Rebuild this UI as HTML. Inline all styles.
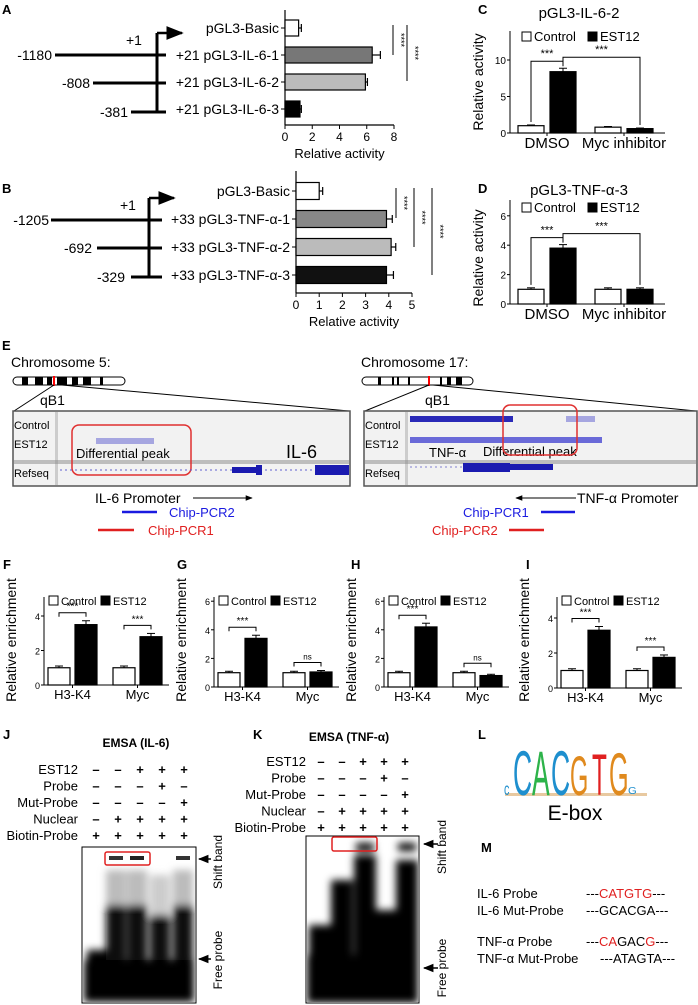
<!DOCTYPE html>
<html><head><meta charset="utf-8"><style>
html,body{margin:0;padding:0;background:#fff}
svg{display:block;font-family:"Liberation Sans",sans-serif}
</style></head><body>
<svg id="fig" width="698" height="1005" viewBox="0 0 698 1005" xmlns="http://www.w3.org/2000/svg">
<defs>
<filter id="blur2" x="-20%" y="-20%" width="140%" height="140%"><feGaussianBlur stdDeviation="4"/></filter>
<marker id="arr" viewBox="0 0 10 10" refX="9" refY="5" markerWidth="7" markerHeight="7" orient="auto"><path d="M0,1 L10,5 L0,9z" fill="#000"/></marker>
</defs>
<g font-weight="bold" font-size="13">
<text x="2" y="14">A</text><text x="2" y="193">B</text><text x="478" y="14">C</text><text x="478" y="193">D</text>
<text x="2" y="350">E</text><text x="3" y="569">F</text><text x="177" y="569">G</text><text x="351" y="569">H</text><text x="526" y="569">I</text>
<text x="3" y="739">J</text><text x="253" y="739">K</text><text x="478" y="739">L</text><text x="481" y="852">M</text>
</g>

<g stroke="#000" stroke-width="3" fill="none">
<line x1="157" y1="33" x2="157" y2="112"/><line x1="157" y1="33" x2="182" y2="33" stroke-width="2.5" marker-end="url(#arr)"/>
<line x1="55" y1="55" x2="166" y2="55"/><line x1="93" y1="83" x2="166" y2="83"/><line x1="131" y1="112" x2="166" y2="112"/>
</g>
<g font-size="14">
<text x="126" y="45">+1</text><text x="52" y="60" text-anchor="end">-1180</text><text x="90" y="88" text-anchor="end">-808</text><text x="128" y="117" text-anchor="end">-381</text>
</g>
<g stroke="#000" stroke-width="3" fill="none">
<line x1="149" y1="198" x2="149" y2="277"/><line x1="149" y1="198" x2="174" y2="198" stroke-width="2.5" marker-end="url(#arr)"/>
<line x1="51" y1="220" x2="162" y2="220"/><line x1="97" y1="248" x2="162" y2="248"/><line x1="131" y1="277" x2="162" y2="277"/>
</g>
<g font-size="14">
<text x="120" y="210">+1</text><text x="49" y="225" text-anchor="end">-1205</text><text x="92" y="253" text-anchor="end">-692</text><text x="125" y="282" text-anchor="end">-329</text>
</g>

<g id="charts"></g>

<g>
<text x="11" y="367" font-size="14">Chromosome 5:</text>
<g>
<rect x="13" y="377" width="112" height="8" rx="4" fill="#fff" stroke="#000"/>
<rect x="22" y="377" width="6" height="8"/><rect x="35" y="377" width="8" height="8"/><rect x="47" y="377" width="5" height="8"/><rect x="57" y="377" width="10" height="8"/><rect x="72" y="377" width="6" height="8"/><rect x="83" y="377" width="8" height="8"/><rect x="100" y="377" width="3" height="8"/>
<line x1="54" y1="376" x2="54" y2="386" stroke="red" stroke-width="2"/>
</g>
<text x="40" y="405" font-size="14">qB1</text>
<line x1="54" y1="385" x2="14" y2="411" stroke="#000"/><line x1="62" y1="385" x2="349" y2="411" stroke="#000"/>
<rect x="13" y="411" width="337" height="75" fill="#f2f2f2" stroke="#555" stroke-width="1.5"/>
<rect x="55" y="412" width="3" height="73" fill="#ccc"/>
<line x1="14" y1="461" x2="349" y2="461" stroke="#888"/><line x1="14" y1="463" x2="349" y2="463" stroke="#888"/>
<g font-size="11"><text x="14" y="429">Control</text><text x="14" y="448">EST12</text><text x="14" y="477">Refseq</text></g>
<rect x="96" y="438" width="58" height="6" fill="#a6a6e0"/>
<text x="76" y="458" font-size="13">Differential peak</text>
<text x="286" y="458" font-size="18">IL-6</text>
<rect x="72" y="425" width="119" height="50" rx="7" fill="none" stroke="#e03030" stroke-width="1.5"/>
<line x1="60" y1="470" x2="349" y2="470" stroke="#6060d0" stroke-dasharray="2,3"/>
<rect x="232" y="467" width="25" height="6" fill="#1a1ab0"/><rect x="256" y="465" width="6" height="10" fill="#1a1ab0"/><rect x="315" y="465" width="34" height="10" fill="#1a1ab0"/>
<text x="95" y="503" font-size="14">IL-6 Promoter</text>
<line x1="193" y1="498" x2="252" y2="498" stroke="#000" marker-end="url(#arr)"/>
<line x1="122" y1="512" x2="157" y2="512" stroke="#1a1ae0" stroke-width="2.5"/><text x="169" y="517" font-size="13" fill="#1a1ae0">Chip-PCR2</text>
<line x1="98" y1="530" x2="134" y2="530" stroke="#e02020" stroke-width="2.5"/><text x="148" y="535" font-size="13" fill="#e02020">Chip-PCR1</text>
</g>
<g>
<text x="361" y="367" font-size="14">Chromosome 17:</text>
<g>
<rect x="362" y="377" width="111" height="8" rx="4" fill="#fff" stroke="#000"/>
<rect x="378" y="377" width="3" height="8"/><rect x="392" y="377" width="2" height="8"/><rect x="397" y="377" width="2" height="8"/><rect x="408" y="377" width="2" height="8"/><rect x="440" y="377" width="2" height="8"/><rect x="447" y="377" width="4" height="8"/><rect x="456" y="377" width="6" height="8"/>
<line x1="429" y1="376" x2="429" y2="386" stroke="red" stroke-width="2"/>
</g>
<text x="425" y="405" font-size="14">qB1</text>
<line x1="429" y1="385" x2="365" y2="411" stroke="#000"/><line x1="433" y1="385" x2="696" y2="411" stroke="#000"/>
<rect x="364" y="411" width="333" height="75" fill="#f2f2f2" stroke="#555" stroke-width="1.5"/>
<rect x="405" y="412" width="3" height="73" fill="#ccc"/>
<line x1="365" y1="461" x2="696" y2="461" stroke="#888"/><line x1="365" y1="463" x2="696" y2="463" stroke="#888"/>
<g font-size="11"><text x="365" y="429">Control</text><text x="365" y="448">EST12</text><text x="365" y="477">Refseq</text></g>
<rect x="410" y="416" width="103" height="6" fill="#2a2ab8"/><rect x="566" y="416" width="29" height="6" fill="#a6a6e0"/>
<rect x="410" y="437" width="192" height="6" fill="#6a6ad8"/>
<text x="429" y="457" font-size="13">TNF-α</text><text x="483" y="456" font-size="13">Differential peak</text>
<rect x="503" y="405" width="74" height="50" rx="7" fill="none" stroke="#e03030" stroke-width="1.5"/>
<line x1="410" y1="467" x2="465" y2="467" stroke="#8080d0" stroke-dasharray="2,3"/>
<rect x="463" y="463" width="47" height="9" fill="#1a1ab0"/><rect x="509" y="464" width="44" height="6" fill="#1a1ab0"/>
<text x="577" y="503" font-size="14">TNF-α Promoter</text>
<line x1="576" y1="498" x2="516" y2="498" stroke="#000" marker-end="url(#arr)"/>
<text x="463" y="517" font-size="13" fill="#1a1ae0">Chip-PCR1</text><line x1="541" y1="512" x2="575" y2="512" stroke="#1a1ae0" stroke-width="2.5"/>
<text x="432" y="535" font-size="13" fill="#e02020">Chip-PCR2</text><line x1="509" y1="530" x2="544" y2="530" stroke="#e02020" stroke-width="2.5"/>
</g>

<g>
<text x="136" y="747" font-size="12" font-weight="bold" text-anchor="middle">EMSA (IL-6)</text>
<g id="jtable" font-size="13"></g>
<rect x="82" y="847" width="114" height="156" fill="#fff" stroke="#000"/>
<clipPath id="cj"><rect x="83" y="848" width="112" height="154"/></clipPath>
<g clip-path="url(#cj)" filter="url(#blur2)">
<rect x="87" y="950" width="20" height="52" fill="#000"/>
<rect x="106" y="905" width="20" height="97" fill="#111"/><rect x="106" y="870" width="20" height="35" fill="#bbb"/>
<rect x="127" y="905" width="20" height="97" fill="#111"/><rect x="127" y="870" width="20" height="35" fill="#bbb"/>
<rect x="150" y="915" width="20" height="87" fill="#111"/><rect x="150" y="875" width="20" height="40" fill="#ccc"/>
<rect x="173" y="905" width="20" height="97" fill="#111"/><rect x="173" y="870" width="20" height="35" fill="#bbb"/>
<rect x="84" y="960" width="110" height="42" fill="#000"/>
</g>
<rect x="109" y="856" width="14" height="4" fill="#333"/><rect x="130" y="856" width="14" height="4" fill="#222"/><rect x="176" y="856" width="14" height="4" fill="#333"/>
<rect x="105" y="852" width="45" height="13" rx="2" fill="none" stroke="#e02020" stroke-width="1.5"/>
<line x1="211" y1="859" x2="199" y2="859" stroke="#000" stroke-width="1.5" marker-end="url(#arr)"/>
<line x1="211" y1="959" x2="199" y2="959" stroke="#000" stroke-width="1.5" marker-end="url(#arr)"/>
<text transform="translate(222,862) rotate(-90)" font-size="12" text-anchor="middle">Shift band</text>
<text transform="translate(222,960) rotate(-90)" font-size="12" text-anchor="middle">Free probe</text>
</g>
<g>
<text x="349" y="741" font-size="12" font-weight="bold" text-anchor="middle">EMSA (TNF-α)</text>
<g id="ktable" font-size="13"></g>
<rect x="306" y="836" width="113" height="167" fill="#fff" stroke="#000"/>
<clipPath id="ck"><rect x="307" y="837" width="111" height="165"/></clipPath>
<g clip-path="url(#ck)" filter="url(#blur2)">
<rect x="309" y="925" width="22" height="78" fill="#000"/>
<rect x="331" y="880" width="22" height="123" fill="#000"/>
<rect x="354" y="855" width="22" height="148" fill="#000"/><rect x="356" y="843" width="18" height="8" fill="#000"/>
<rect x="376" y="910" width="20" height="93" fill="#000"/>
<rect x="396" y="860" width="22" height="143" fill="#000"/><rect x="398" y="843" width="18" height="8" fill="#000"/>
<rect x="307" y="955" width="111" height="48" fill="#000"/>
</g>
<rect x="332" y="837" width="45" height="14" rx="2" fill="none" stroke="#e02020" stroke-width="1.5"/>
<line x1="438" y1="844" x2="424" y2="844" stroke="#000" stroke-width="1.5" marker-end="url(#arr)"/>
<line x1="438" y1="968" x2="424" y2="968" stroke="#000" stroke-width="1.5" marker-end="url(#arr)"/>
<text transform="translate(446,847) rotate(-90)" font-size="12" text-anchor="middle">Shift band</text>
<text transform="translate(446,968) rotate(-90)" font-size="12" text-anchor="middle">Free probe</text>
</g>
<g>
<rect x="505" y="793" width="142" height="3" fill="#e8c9a0"/>
<text x="0" y="0" font-size="18" fill="#1e8fce" transform="translate(504,795) scale(0.6,1)">c</text>
<text x="0" y="0" font-size="63" fill="#1e8fce" transform="translate(513,795) scale(0.42,1)">C</text>
<text x="0" y="0" font-size="63" fill="#2db34a" transform="translate(532,795) scale(0.42,1)">A</text>
<text x="0" y="0" font-size="63" fill="#1e8fce" transform="translate(551,795) scale(0.42,1)">C</text>
<text x="0" y="0" font-size="56" fill="#e08a1e" transform="translate(570,795) scale(0.42,1)">G</text>
<text x="0" y="0" font-size="58" fill="#e02020" transform="translate(592,795) scale(0.42,1)">T</text>
<text x="0" y="0" font-size="60" fill="#e08a1e" transform="translate(609,795) scale(0.42,1)">G</text>
<text x="0" y="0" font-size="14" fill="#1e8fce" transform="translate(628,794) scale(0.8,0.7)">G</text>
<text x="575" y="820" font-size="21" text-anchor="middle">E-box</text>
</g>
<g font-size="13">
<text x="477" y="898">IL-6 Probe</text><text x="586" y="898">---<tspan fill="#e02020">CAT</tspan><tspan fill="#e02020">GTG</tspan>---</text>
<text x="477" y="915">IL-6 Mut-Probe</text><text x="586" y="915">---GCACGA---</text>
<text x="477" y="946">TNF-α Probe</text><text x="586" y="946">---<tspan fill="#e02020">CA</tspan>GAC<tspan fill="#e02020">G</tspan>---</text>
<text x="477" y="963">TNF-α Mut-Probe</text><text x="600" y="963">---ATAGTA---</text>
</g>
</svg>
<script>
const aCats = ['pGL3-Basic','+21 pGL3-IL-6-1','+21 pGL3-IL-6-2','+21 pGL3-IL-6-3'];
const aVals = [1.0, 6.4, 5.9, 1.1];
const aErr = [0.2, 0.6, 0.15, 0.1];
const aTicks = [0, 2, 4, 6, 8];
const bCats = ['pGL3-Basic','+33 pGL3-TNF-α-1','+33 pGL3-TNF-α-2','+33 pGL3-TNF-α-3'];
const bVals = [1.0, 3.9, 4.1, 3.9];
const bErr = [0.15, 0.25, 0.2, 0.3];
const bTicks = [0, 1, 2, 3, 4, 5];
const seriesNames = ['Control', 'EST12'];
const cdGroups = ['DMSO', 'Myc inhibitor'];
const cControl = [1.0, 0.8];
const cEst = [8.4, 0.6];
const cTicks = [0, 5, 10];
const dControl = [1.0, 1.0];
const dEst = [3.8, 1.0];
const dTicks = [0, 2, 4, 6];
const chipGroups = ['H3-K4', 'Myc'];
const fControl = [1.0, 1.0];
const fEst = [3.5, 2.8];
const fTicks = [0, 2, 4];
const fSig = ['***', '***'];
const gControl = [1.0, 1.0];
const gEst = [3.4, 1.05];
const gTicks = [0, 2, 4, 6];
const gSig = ['***', 'ns'];
const hControl = [1.0, 1.0];
const hEst = [4.2, 0.8];
const hTicks = [0, 2, 4, 6];
const hSig = ['***', 'ns'];
const iControl = [1.0, 1.0];
const iEst = [3.3, 1.75];
const iTicks = [0, 2, 4];
const iSig = ['***', '***'];
const emsaRows = ['EST12','Probe','Mut-Probe','Nuclear','Biotin-Probe'];
const jSigns = [['-','-','+','+','+'],['-','-','-','+','-'],['-','-','-','-','+'],['-','+','+','+','+'],['+','+','+','+','+']];
const kSigns = [['-','-','+','+','+'],['-','-','-','+','-'],['-','-','-','-','+'],['-','+','+','+','+'],['+','+','+','+','+']];

const NS = 'http://www.w3.org/2000/svg';
const root = document.getElementById('charts');
function mk(tag, attrs, parent, txt) {
  const e = document.createElementNS(NS, tag);
  for (const k in attrs) e.setAttribute(k, attrs[k]);
  if (txt !== undefined) e.textContent = txt;
  (parent || root).appendChild(e);
  return e;
}

function hbar(cats, vals, errs, ticks, x0, x1, yStart, step, bh, axTop, axBot, fills, name) {
  const g = mk('g', {});
  
  
  const max = ticks[ticks.length - 1];
  const sx = v => x0 + (x1 - x0) * v / max;
  mk('line', {x1: x0, y1: axTop, x2: x0, y2: axBot, stroke: '#000', 'stroke-width': 1.2}, g);
  mk('line', {x1: x0, y1: axBot, x2: sx(max), y2: axBot, stroke: '#000', 'stroke-width': 1.2}, g);
  ticks.forEach(t => {
    mk('line', {x1: sx(t), y1: axBot, x2: sx(t), y2: axBot + 4, stroke: '#000'}, g);
    const tl = mk('text', {x: sx(t), y: axBot + 16, 'font-size': 12, 'text-anchor': 'middle'}, g, t);
    
    
  });
  const xt = mk('text', {x: (x0 + sx(max)) / 2, y: axBot + 33, 'font-size': 13, 'text-anchor': 'middle'}, g, 'Relative activity');
  
  
  cats.forEach((c, i) => {
    const yc = yStart + i * step;
    const r = mk('rect', {x: x0, y: yc - bh / 2, width: sx(vals[i]) - x0, height: bh, fill: fills[i], stroke: '#000', 'stroke-width': 1.2}, g);
    
    
    const xe = sx(vals[i] + errs[i]);
    mk('line', {x1: sx(vals[i]), y1: yc, x2: xe, y2: yc, stroke: '#000', 'stroke-width': 1.2}, g);
    mk('line', {x1: xe, y1: yc - 4, x2: xe, y2: yc + 4, stroke: '#000', 'stroke-width': 1.2}, g);
    mk('line', {x1: x0 - 4, y1: yc, x2: x0, y2: yc, stroke: '#000'}, g);
    const l = mk('text', {x: x0 - 6, y: yc + 5, 'font-size': 14, 'text-anchor': 'end'}, g, c);
    
    
  });
  return g;
}
hbar(aCats, aVals, aErr, aTicks, 285, 394, 28, 27, 16, 10, 125, ['#fff', '#777', '#bbb', '#000'], 'chart-a');
hbar(bCats, bVals, bErr, bTicks, 296, 412, 191, 28, 17, 171, 293, ['#fff', '#888', '#bbb', '#111'], 'chart-b');
[[393, 25, 55], [407, 25, 81]].forEach(s => {
  const l = mk('line', {x1: s[0], y1: s[1], x2: s[0], y2: s[2], stroke: '#000'});
  
  
  mk('text', {transform: `translate(${s[0] + 5},${(s[1] + s[2]) / 2}) rotate(90)`, 'font-size': 9, 'text-anchor': 'middle'}, root, '****');
});
[[396, 188, 218], [414, 188, 247], [432, 188, 275]].forEach(s => {
  const l = mk('line', {x1: s[0], y1: s[1], x2: s[0], y2: s[2], stroke: '#000'});
  
  
  mk('text', {transform: `translate(${s[0] + 5},${(s[1] + s[2]) / 2}) rotate(90)`, 'font-size': 9, 'text-anchor': 'middle'}, root, '****');
});

function vbar(o) {
  const g = mk('g', {});
  
  
  const sy = v => o.y0 - v * o.ppu;
  const ax = o.ax;
  mk('line', {x1: ax, y1: o.axTop, x2: ax, y2: o.y0, stroke: '#000'}, g);
  mk('line', {x1: ax, y1: o.y0, x2: ax + o.axLen, y2: o.y0, stroke: '#000'}, g);
  o.ticks.forEach(t => {
    mk('line', {x1: ax - 3, y1: sy(t), x2: ax, y2: sy(t), stroke: '#000'}, g);
    const tl = mk('text', {x: ax - 4, y: sy(t) + 4, 'font-size': o.tfs, 'text-anchor': 'end'}, g, t);
    
    
  });
  const yt = mk('text', {transform: `translate(${o.ytx},${o.yty}) rotate(-90)`, 'font-size': o.ytfs, 'text-anchor': 'middle'}, g, o.ytitle);
  
  
  const tt = mk('text', {x: o.tx, y: o.ty, 'font-size': o.tfs2, 'text-anchor': 'middle', fill: o.tcol}, g, o.title);
  
  
  const lg = mk('g', {}, g);
  
  
  mk('rect', {x: o.lx, y: o.ly - 9, width: 9, height: 9, fill: '#fff', stroke: '#000'}, lg);
  mk('text', {x: o.lx + 12, y: o.ly, 'font-size': o.lfs}, lg, seriesNames[0]);
  mk('rect', {x: o.lx + o.lgap, y: o.ly - 9, width: 9, height: 9, fill: '#000', stroke: '#000'}, lg);
  mk('text', {x: o.lx + o.lgap + 12, y: o.ly, 'font-size': o.lfs}, lg, seriesNames[1]);
  const centers = [];
  o.groups.forEach((gn, i) => {
    const gx = ax + o.gOff + i * o.gStep;
    [[o.ctrl[i], '#fff', 0], [o.est[i], '#000', o.estOff]].forEach((d, j) => {
      const x = gx + d[2];
      const r = mk('rect', {x: x, y: sy(d[0]), width: o.bw, height: d[0] * o.ppu, fill: d[1], stroke: '#000', 'stroke-width': 1.2}, g);
      
      
      const e = d[0] * 0.05 + 0.05;
      mk('line', {x1: x + o.bw / 2, y1: sy(d[0]), x2: x + o.bw / 2, y2: sy(d[0] + e), stroke: '#000'}, g);
      mk('line', {x1: x + o.bw / 2 - 4, y1: sy(d[0] + e), x2: x + o.bw / 2 + 4, y2: sy(d[0] + e), stroke: '#000'}, g);
      centers.push({x: x + o.bw / 2, v: d[0] + e});
    });
    const mid = gx + (o.estOff + o.bw) / 2;
    mk('line', {x1: mid, y1: o.y0, x2: mid, y2: o.y0 + 3, stroke: '#000'}, g);
    const gl = mk('text', {x: mid, y: o.y0 + o.gly, 'font-size': o.gfs, 'text-anchor': 'middle'}, g, gn);
    
    
  });
  return {g, sy, centers};
}
function cdSig(r) {
  const c = r.centers, sy = r.sy;
  const top1 = sy(c[1].v) - 7, top2 = sy(c[1].v) - 11;
  mk('path', {d: `M${c[0].x},${sy(c[0].v) - 3} V${top1} H${c[1].x} V${sy(c[1].v) - 2}`, fill: 'none', stroke: '#000'}, r.g);
  mk('path', {d: `M${c[1].x},${top1} V${top2} H${c[3].x} V${sy(c[3].v) - 3}`, fill: 'none', stroke: '#000'}, r.g);
  mk('text', {x: (c[0].x + c[1].x) / 2, y: top1 - 4, 'font-size': 11, 'text-anchor': 'middle'}, r.g, '***');
  mk('text', {x: (c[1].x + c[3].x) / 2, y: top2 - 4, 'font-size': 11, 'text-anchor': 'middle'}, r.g, '***');
}
const cdBase = {ax: 510, axLen: 155, bw: 26, gOff: 8, estOff: 32, gStep: 77, groups: cdGroups, tfs: 10, ytx: 483, ytfs: 14, ytitle: 'Relative activity', tx: 579, tfs2: 15, tcol: '#000', lx: 522, lgap: 66, lfs: 13, gly: 15, gfs: 15};
const rc = vbar(Object.assign({}, cdBase, {name: 'chart-c', y0: 133, ppu: 7.3, axTop: 31, ticks: cTicks, ctrl: cControl, est: cEst, yty: 82, title: 'pGL3-IL-6-2', ty: 18, ly: 41}));
cdSig(rc);
const rd = vbar(Object.assign({}, cdBase, {name: 'chart-d', y0: 304, ppu: 14.7, axTop: 200, ticks: dTicks, ctrl: dControl, est: dEst, yty: 258, title: 'pGL3-TNF-α-3', ty: 195, ly: 212}));
cdSig(rd);

function chipChart(ax, y0, ppu, ticks, ctrl, est, sig, title, tcol, name) {
  const r = vbar({name: name, ax: ax, axLen: 125, bw: 22, gOff: 4, estOff: 27, gStep: 65, groups: chipGroups, y0: y0, ppu: ppu, axTop: 597, ticks: ticks, ctrl: ctrl, est: est, tfs: 9, ytx: ax - 28, yty: 640, ytfs: 14, ytitle: 'Relative enrichment', tx: ax + 86, ty: 586, tfs2: 14, tcol: tcol, lx: ax + 5, ly: 605, lgap: 52, lfs: 11, gly: 14, gfs: 13});
  const c = r.centers, sy = r.sy;
  [0, 1].forEach(i => {
    const a = c[2 * i], b = c[2 * i + 1];
    const yb = Math.min(sy(a.v), sy(b.v)) - 8;
    mk('path', {d: `M${a.x},${yb + 4} V${yb} H${b.x} V${yb + 4}`, fill: 'none', stroke: '#000'}, r.g);
    mk('text', {x: (a.x + b.x) / 2, y: yb - 3, 'font-size': sig[i] === 'ns' ? 8 : 10, 'text-anchor': 'middle'}, r.g, sig[i]);
  });
}
chipChart(44, 685, 17.25, fTicks, fControl, fEst, fSig, 'Chip-PCR1 (IL-6)', '#e02020', 'chart-f');
chipChart(214, 687, 14.3, gTicks, gControl, gEst, gSig, 'Chip-PCR2 (IL-6)', '#1a1ae0', 'chart-g');
chipChart(384, 687, 14.3, hTicks, hControl, hEst, hSig, 'Chip-PCR1 (TNF-α)', '#1a1ae0', 'chart-h');
chipChart(557, 688, 17.5, iTicks, iControl, iEst, iSig, 'Chip-PCR2 (TNF-α)', '#e02020', 'chart-i');

function table(id, signs, labelX, y0, step, cols) {
  const g = document.getElementById(id);
  emsaRows.forEach((rn, i) => {
    const y = y0 + i * step;
    const t = mk('text', {x: labelX, y: y, 'text-anchor': 'end'}, g, rn);
    
    
    signs[i].forEach((s, j) => {
      mk('text', {x: cols[0] + j * cols[1], y: y, 'text-anchor': 'middle', 'font-weight': 'bold'}, g, s === '-' ? '–' : '+');
    });
  });
}
table('jtable', jSigns, 78, 774, 16.5, [96, 22]);
table('ktable', kSigns, 306, 766, 16.5, [321, 21]);
</script>
</body></html>
